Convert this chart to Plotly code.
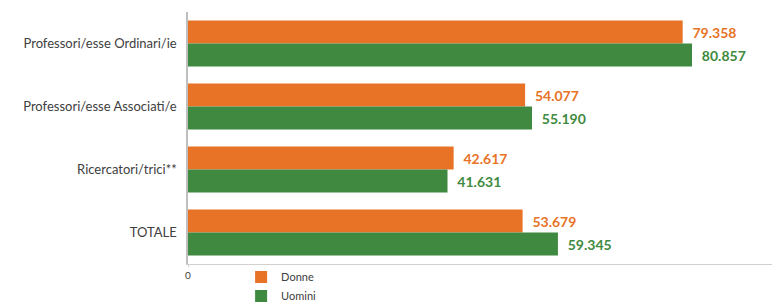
import plotly.graph_objects as go

categories = ["Professori/esse Ordinari/ie", "Professori/esse Associati/e", "Ricercatori/trici**", "TOTALE"]
donne = [79358, 54077, 42617, 53679]
uomini = [80857, 55190, 41631, 59345]
series_names = ["Donne", "Uomini"]

ORANGE = "#E87326"
GREEN = "#3F8A40"
FONT = "Lato, 'Noto Sans', sans-serif"

fig = go.Figure()
for name, vals, col in [(series_names[0], donne, ORANGE), (series_names[1], uomini, GREEN)]:
    fig.add_trace(go.Bar(
        y=categories, x=vals, name=name, orientation="h",
        marker=dict(color=col, line=dict(width=0)),
        texttemplate="  %{x:,.0f}", textposition="outside",
        outsidetextfont=dict(color=col, size=14, family=FONT, weight="bold"),
        cliponaxis=False,
    ))

# page body has an 8px margin; size the figure so it fits the 780x302 window
fig.update_layout(
    width=772, height=294,
    margin=dict(l=180, r=2, t=4, b=38, autoexpand=False),
    paper_bgcolor="white", plot_bgcolor="white",
    barmode="group", bargap=0.27, bargroupgap=0,
    separators=",.",
    font=dict(family=FONT, size=13, color="#404040"),
    showlegend=True,
    legend=dict(orientation="v", x=0.090, xanchor="left", y=0.006, yanchor="top",
                font=dict(size=11, color="#404040"), tracegroupgap=0,
                itemwidth=30, bgcolor="rgba(0,0,0,0)"),
    xaxis=dict(range=[0, 94650], tickvals=[0], ticktext=["0"], showgrid=False,
               zeroline=False, showline=True, linecolor="#D0D0D0", linewidth=1,
               ticks="outside", ticklen=2, tickcolor="#D0D0D0", ticklabelstandoff=0,
               automargin=False, tickfont=dict(size=10, color="#404040")),
    yaxis=dict(autorange="reversed", showgrid=False, zeroline=False, automargin=False,
               showline=True, linecolor="#BFBFBF", linewidth=2,
               ticks="", ticksuffix="  ", tickfont=dict(size=13, color="#404040")),
)

fig.write_html("out.html")
